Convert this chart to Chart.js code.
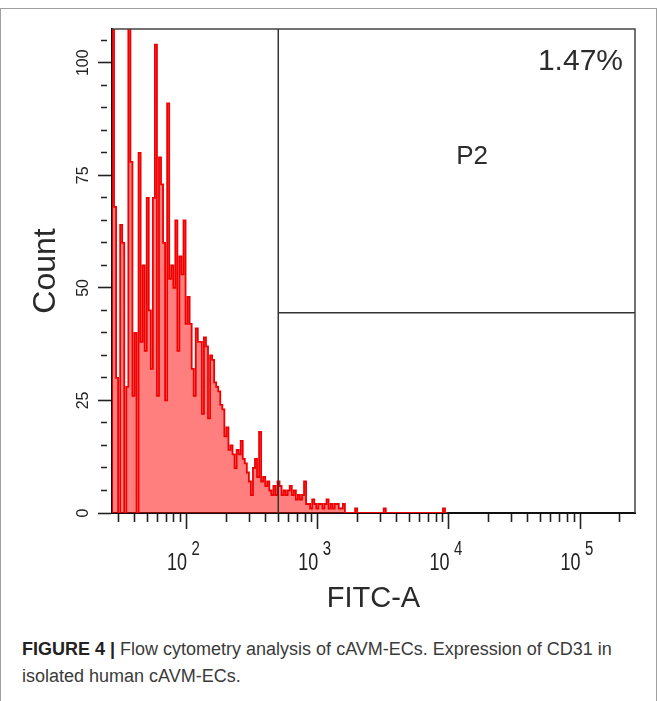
<!DOCTYPE html>
<html>
<head>
<meta charset="utf-8">
<script src="https://cdn.jsdelivr.net/npm/chart.js@4.4.1/dist/chart.umd.min.js"></script>
<style>
  html, body { margin: 0; padding: 0; background: #fff; }
  #figure { position: relative; width: 657px; height: 701px; overflow: hidden; }
  #frame {
    position: absolute; left: 0; top: 8px; width: 657px; height: 700px;
    box-sizing: border-box; border: 1px solid #a0a0a0; border-bottom: none;
  }
  #chart { position: absolute; left: 0; top: 0; }
  #caption {
    position: absolute; left: 22px; top: 636px;
    font-family: "Liberation Sans", Arial, sans-serif;
    font-size: 18px; line-height: 27px; color: #3a3a3a;
  }
  #caption b { color: #222; }
</style>
</head>
<body>
<div id="figure">
  <div id="frame"></div>
  <canvas id="chart" width="657" height="620"></canvas>
  <div id="caption"><b>FIGURE 4 |</b> Flow cytometry analysis of cAVM-ECs. Expression of CD31 in<br>isolated human cAVM-ECs.</div>
</div>
<script>
const FONT_FAMILY = '"Liberation Sans", Arial, sans-serif';
const COLOR_INK = "#222";

// FITC-A histogram, 256 display channels spread over the log axis
const CHANNEL_COUNT = 256;
const FITC_MIN = 27;
const FITC_MAX = 262144;

// events per channel, read channel by channel from the plot
const counts = [
  112, 68, 30, 0, 64, 60, 0, 28, 112, 78,
  26, 40, 0, 80, 38, 55, 36, 70, 45, 32,
  70, 104, 26, 79, 73, 60, 25, 91, 52, 55,
  50, 65, 36, 57, 53, 65, 42, 48, 42, 32,
  26, 41, 38, 38, 22, 39, 37, 21, 35, 34,
  29, 28, 27, 24, 23, 17, 19, 14, 15, 13,
  10, 14, 13, 16, 12, 11, 9, 7, 4, 10,
  12, 8, 18, 7, 8, 6, 7, 5, 4, 6,
  4, 7, 6, 4, 5, 4, 5, 6, 4, 5,
  3, 4, 3, 4, 7, 2, 2, 1, 3, 2,
  1, 2, 2, 1, 2, 3, 1, 2, 1, 2,
  2, 1, 1, 2, 0, 0, 0, 0, 0, 1,
  0, 0, 0, 0, 0, 0, 0, 0, 0, 0,
  0, 0, 0, 1, 0, 0, 0, 0, 0, 0,
  0, 0, 0, 0, 0, 0, 0, 0, 0, 0,
  0, 0, 0, 0, 0, 0, 0, 0, 0, 0,
  0, 0, 1, 0,
];

const countMax = 107.5;
const countStep = 5;
const countLabels = [0, 25, 50, 75, 100];

const decades = [10, 100, 1000, 10000, 100000];
const decadeLabels = [null, "2", "3", "4", "5"];
const minorMultipliers = [2, 3, 4, 5, 6, 7, 8, 9];

// P2 marker
const gateFrom = 500;
const gateLevel = 44.5;
const gateName = "P2";
const gatePercent = "1.47%";
const gateNameAt = { x: 15000, y: 79 };

const xTickValues = decades
  .flatMap((d) => [d, ...minorMultipliers.map((m) => d * m)])
  .filter((v) => v > FITC_MIN && v < FITC_MAX);

const histogram = [
  { x: 0, y: 0 },
  ...counts.map((c, i) => ({ x: i, y: c })),
  { x: counts.length, y: 0 },
];

Chart.defaults.font.family = FONT_FAMILY;
Chart.defaults.color = COLOR_INK;

const facsDecor = {
  id: "facsDecor",
  afterDraw(chart) {
    const { ctx, chartArea: area, scales } = chart;
    const xLog = scales.xLog;
    const y = scales.y;

    ctx.save();
    // top and right sides of the plot frame
    ctx.strokeStyle = "#444";
    ctx.lineWidth = 1.5;
    ctx.beginPath();
    ctx.moveTo(area.left, area.top);
    ctx.lineTo(area.right, area.top);
    ctx.lineTo(area.right, area.bottom);
    ctx.stroke();

    // gate
    const gx = xLog.getPixelForValue(gateFrom);
    const gy = y.getPixelForValue(gateLevel);
    ctx.strokeStyle = "#333";
    ctx.beginPath();
    ctx.moveTo(gx, area.top);
    ctx.lineTo(gx, area.bottom);
    ctx.moveTo(gx, gy);
    ctx.lineTo(area.right, gy);
    ctx.stroke();

    ctx.fillStyle = "#2c2c2c";
    ctx.font = "30px " + FONT_FAMILY;
    ctx.textAlign = "right";
    ctx.textBaseline = "alphabetic";
    ctx.fillText(gatePercent, area.right - 12, area.top + 41);

    ctx.font = "26px " + FONT_FAMILY;
    ctx.textAlign = "center";
    ctx.textBaseline = "middle";
    ctx.fillText(gateName, xLog.getPixelForValue(gateNameAt.x), y.getPixelForValue(gateNameAt.y));

    // decade labels 10^n, a bit tall like the instrument print
    ctx.fillStyle = COLOR_INK;
    decades.forEach((d, i) => {
      if (!decadeLabels[i]) return;
      const px = xLog.getPixelForValue(d);
      ctx.save();
      ctx.translate(px, area.bottom + 57);
      ctx.scale(1, 1.3);
      ctx.textBaseline = "alphabetic";
      ctx.font = "18px " + FONT_FAMILY;
      ctx.textAlign = "right";
      ctx.fillText("10", 0.5, 0);
      ctx.font = "15px " + FONT_FAMILY;
      ctx.textAlign = "left";
      ctx.fillText(decadeLabels[i], 5, -11.5);
      ctx.restore();
    });
    ctx.restore();
  },
};

function initChart(canvas) {
  new Chart(canvas, {
    type: "line",
    data: {
      datasets: [
        {
          data: histogram,
          stepped: true,
          fill: "origin",
          borderColor: "#f00000",
          borderWidth: 1.8,
          backgroundColor: "rgba(255, 0, 0, 0.5)",
          pointRadius: 0,
        },
      ],
    },
    options: {
      responsive: false,
      animation: false,
      events: [],
      layout: { padding: { left: 0, right: 22, top: 29, bottom: 0 } },
      plugins: {
        legend: { display: false },
        tooltip: { enabled: false },
      },
      scales: {
        x: { type: "linear", min: 0, max: CHANNEL_COUNT, display: false },
        xLog: {
          type: "logarithmic",
          position: "bottom",
          min: FITC_MIN,
          max: FITC_MAX,
          z: 1,
          afterBuildTicks: (scale) => {
            scale.ticks = xTickValues.map((v) => ({ value: v, major: decades.includes(v) }));
          },
          afterFit: (scale) => {
            scale.height = 107;
          },
          ticks: { display: false },
          grid: {
            drawOnChartArea: false,
            tickLength: 16,
            tickWidth: 1.6,
            tickColor: COLOR_INK,
            tickBorderDash: (ctx) => (ctx.tick && ctx.tick.major ? [] : [8, 100]),
          },
          border: { color: "#111", width: 2 },
          title: {
            display: true,
            text: "FITC-A",
            color: "#2a2a2a",
            font: { size: 29 },
            padding: { top: 0, bottom: 4 },
          },
        },
        y: {
          min: 0,
          max: countMax,
          z: 1,
          afterFit: (scale) => {
            scale.width = 112;
          },
          ticks: {
            stepSize: countStep,
            maxTicksLimit: 100,
            autoSkip: false,
            includeBounds: false,
            minRotation: 90,
            maxRotation: 90,
            crossAlign: "center",
            padding: 1,
            font: { size: 16 },
            color: COLOR_INK,
            callback: (v) => (countLabels.includes(v) ? String(v) : ""),
          },
          grid: {
            drawOnChartArea: false,
            tickLength: 14,
            tickWidth: 1.6,
            tickColor: COLOR_INK,
            tickBorderDash: (ctx) =>
              ctx.tick && countLabels.includes(ctx.tick.value) ? [] : [0, 3, 6, 100],
          },
          border: { color: "#111", width: 2 },
          title: {
            display: true,
            text: "Count",
            color: "#2a2a2a",
            font: { size: 32 },
            padding: { top: 27, bottom: 0 },
          },
        },
      },
    },
    plugins: [facsDecor],
  });
}

initChart(document.getElementById("chart"));
</script>
</body>
</html>
